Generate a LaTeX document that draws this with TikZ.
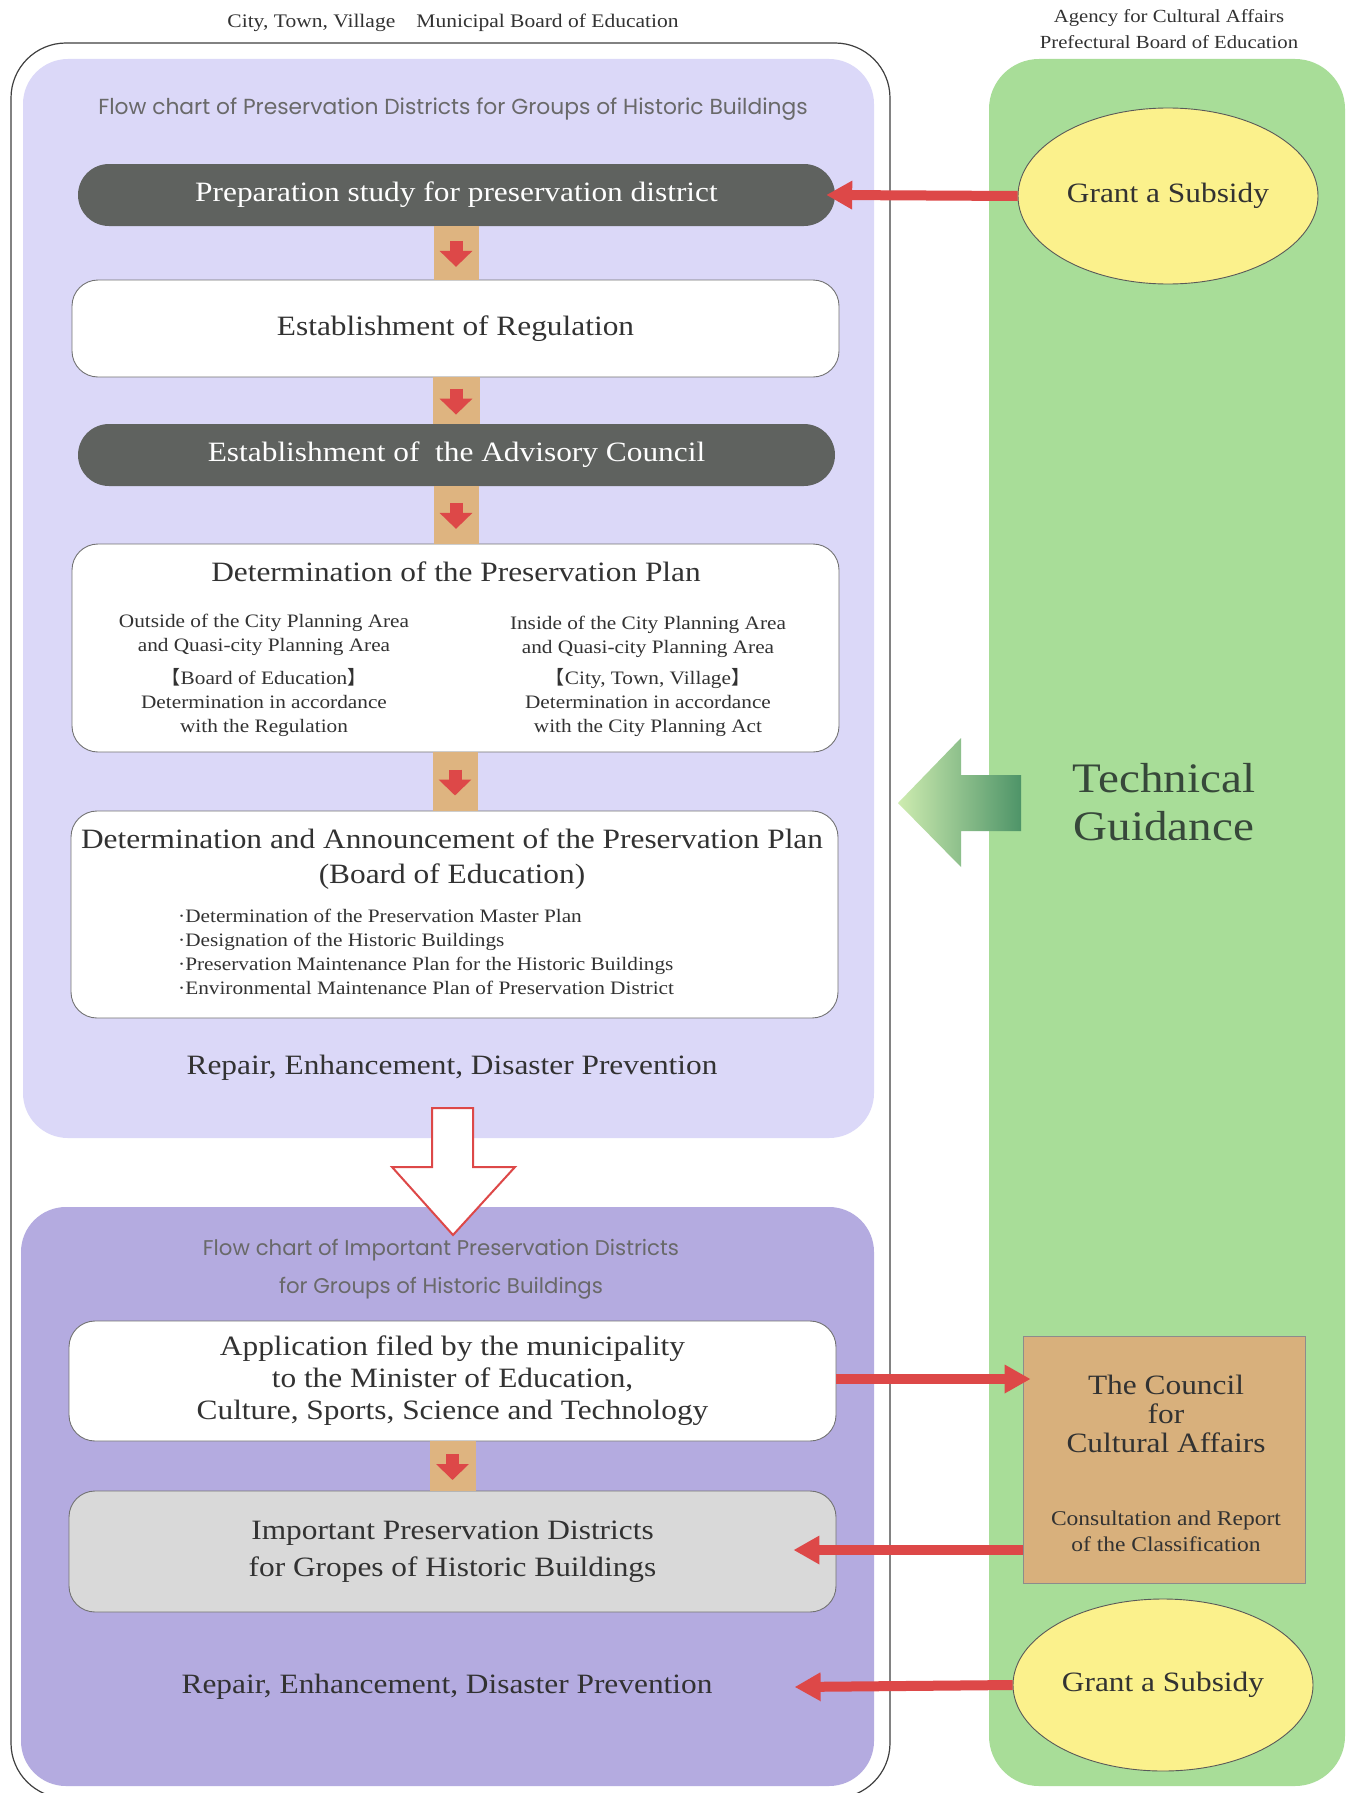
\documentclass[tikz,border=0pt]{standalone}
\usepackage{fontspec}
\setmainfont{Liberation Serif}[FakeStretch=1.12]
\newfontfamily\cjkf{Noto Sans CJK JP}
\newfontfamily\titlefont{Poppins}
\usetikzlibrary{arrows.meta,calc,shapes.geometric}
\definecolor{lav}{RGB}{219,216,248}
\definecolor{lavdark}{RGB}{180,171,224}
\definecolor{grn}{RGB}{168,221,152}
\definecolor{darkbox}{RGB}{95,98,95}
\definecolor{tanc}{RGB}{222,180,128}
\definecolor{tanbox}{RGB}{216,176,124}
\definecolor{arrred}{RGB}{221,72,72}
\definecolor{yel}{RGB}{251,241,140}
\definecolor{lgray}{RGB}{217,217,217}
\definecolor{txt}{RGB}{50,50,50}
\definecolor{titlegray}{RGB}{105,105,105}
\definecolor{tgtext}{RGB}{55,72,58}
\newcommand{\fs}[1]{\fontsize{#1}{#1}\selectfont}
\newcommand{\lb}{{\cjkf 【}}
\newcommand{\rb}{{\cjkf 】}}
\begin{document}
\begin{tikzpicture}[x=1pt,y=-1pt,
  darkpill/.style={fill=darkbox, text=white, rounded corners=31pt, minimum width=757pt, minimum height=62pt, inner sep=0pt, font=\fs{28}},
  whitebox/.style={fill=white, draw=black!55, line width=0.9pt, rounded corners=26pt, minimum width=767pt, inner sep=0pt, text=txt, align=center},
  plain/.style={inner sep=0pt, text=txt, align=center},
  bigtxt/.style={plain, font=\fontsize{28}{32}\selectfont},
  smalltxt/.style={plain, font=\fontsize{19}{24}\selectfont},
  sanstitle/.style={inner sep=0pt, text=titlegray, font=\titlefont\fs{21.8}},
  bigarr/.style={draw=arrred, line width=10pt, -{Triangle[length=26pt,width=27pt]}},
  smallarr/.style={draw=arrred, line width=13pt, -{Triangle[length=16pt,width=32pt]}},
  ell/.style={ellipse, fill=yel, draw=black!65, line width=0.9pt, minimum width=300pt, minimum height=176pt, inner sep=0pt, text=txt, font=\fs{28}}
]
\useasboundingbox (0,0) rectangle (1354,1793);
\fill[white] (0,0) rectangle (1354,1793);
% panels
\fill[lav] (23,59) [rounded corners=45pt] rectangle (874,1138);
\fill[lavdark] (21,1207) [rounded corners=45pt] rectangle (874,1786);
\fill[grn] (989,59) [rounded corners=50pt] rectangle (1345,1786);
\draw[black!75, line width=1.2pt, rounded corners=55pt] (11,43) rectangle (890,1798);

% header labels
\node[plain, font=\fs{19.2}] (hdl) at (453,23) {City, Town, Village\hspace{1.1em}Municipal Board of Education};
\node[plain, font=\fontsize{18.5}{26}\selectfont] (hdr) at (1169,29) {Agency for Cultural Affairs\\Prefectural Board of Education};

% upper flow
\node[sanstitle] (t1) at (453,109) {Flow chart of Preservation Districts for Groups of Historic Buildings};
\node[darkpill] (b1) at (456.5,195) {Preparation study for preservation district};
\node[whitebox, minimum height=97pt, font=\fs{28}] (b2) at (455.5,328.5) {Establishment of Regulation};
\node[darkpill] (b3) at (456.5,455) {Establishment of\ \ the Advisory Council};
\node[whitebox, minimum height=208pt] (b4) at (455.5,648) {};
\node[bigtxt] (b4t) at (456,572) {Determination of the Preservation Plan};
\node[smalltxt, anchor=north] (b4l) at (264,614) {Outside of the City Planning Area\\and Quasi-city Planning Area\\[9pt]\lb Board of Education\rb\\Determination in accordance\\with the Regulation};
\node[smalltxt, anchor=north] (b4r) at (648,616) {Inside of the City Planning Area\\and Quasi-city Planning Area\\[7pt]\lb City, Town, Village\rb\\Determination in accordance\\with the City Planning Act};
\node[whitebox, minimum height=207pt] (b5) at (454.5,914.5) {};
\node[bigtxt] (b5t) at (452,839) {Determination and Announcement of the Preservation Plan};
\node[bigtxt] (b5s) at (452,877) {(Board of Education)};
\node[smalltxt, anchor=north west, align=left] (b5l) at (178,909) {·Determination of the Preservation Master Plan\\·Designation of the Historic Buildings\\·Preservation Maintenance Plan for the Historic Buildings\\·Environmental Maintenance Plan of Preservation District};
\node[bigtxt] (rep1) at (452,1068) {Repair, Enhancement, Disaster Prevention};

% hollow arrow between panels
\draw[draw=arrred, line width=2pt, fill=white, line join=miter] (432,1108) -- (473,1108) -- (473,1167) -- (515,1167) -- (453,1235) -- (392,1167) -- (432,1167) -- cycle;

% lower flow
\node[sanstitle, font=\titlefont\fs{21.3}] (t2a) at (441,1250) {Flow chart of Important Preservation Districts};
\node[sanstitle, font=\titlefont\fs{21.3}] (t2b) at (441,1288) {for Groups of Historic Buildings};
\node[whitebox, minimum height=120pt, font=\fontsize{28}{32}\selectfont] (b6) at (452.5,1381) {Application filed by the municipality\\to the Minister of Education,\\Culture, Sports, Science and Technology};
\node[whitebox, fill=lgray, minimum height=121pt, font=\fontsize{28}{37}\selectfont] (b7) at (452.5,1551.5) {Important Preservation Districts\\for Gropes of Historic Buildings};
\node[bigtxt] (rep2) at (447,1687) {Repair, Enhancement, Disaster Prevention};

% connectors with small arrows
\foreach \a/\b in {b1/b2,b2/b3,b3/b4,b4/b5,b6/b7}{
  \fill[tanc] ($(\a.south)+(-23,0)$) rectangle ($(\b.north)+(23,0)$);
  \draw[smallarr] ($(\a.south)!0.5!(\b.north)+(0,-12)$) -- ($(\a.south)!0.5!(\b.north)+(0,14)$);
}

% right side
\node[ell] (e1) at (1168,196) {Grant a Subsidy};
\node[ell, minimum height=172pt] (e2) at (1163,1685) {Grant a Subsidy};
\node[plain, text=tgtext, font=\fontsize{42}{48}\selectfont] (tg) at (1164,802) {Technical\\Guidance};
\node[fill=tanbox, draw=black!45, line width=0.8pt, minimum width=282pt, minimum height=247pt, inner sep=0pt] (cca) at (1164,1459.5) {};
\node[plain, font=\fontsize{28}{29}\selectfont] (ccat) at (1166,1414) {The Council\\for\\Cultural Affairs};
\node[plain, font=\fontsize{21}{26}\selectfont] (ccab) at (1166,1531) {Consultation and Report\\of the Classification};

% gradient guidance arrow
\shade[left color={rgb,255:red,206;green,236;blue,176}, middle color={rgb,255:red,192;green,228;blue,162}, right color={rgb,255:red,78;green,148;blue,104}]
  (1021,775) -- (961,775) -- (961,738) -- (898,803) -- (961,867) -- (961,831) -- (1021,831) -- cycle;

% red arrows
\draw[bigarr, shorten >=-9pt] (e1.west) -- (b1.east);
\draw[bigarr, shorten >=-8pt] ($(b6.east)+(0,-2)$) -- ($(cca.west)+(0,-80.5)$);
\draw[bigarr, shorten >=-43pt] ($(cca.west)+(0,90.5)$) -- ($(b7.east)+(0,-1.5)$);
\draw[bigarr] (e2.west) -- ($(rep2.east)+(82,0)$);
\end{tikzpicture}
\end{document}
